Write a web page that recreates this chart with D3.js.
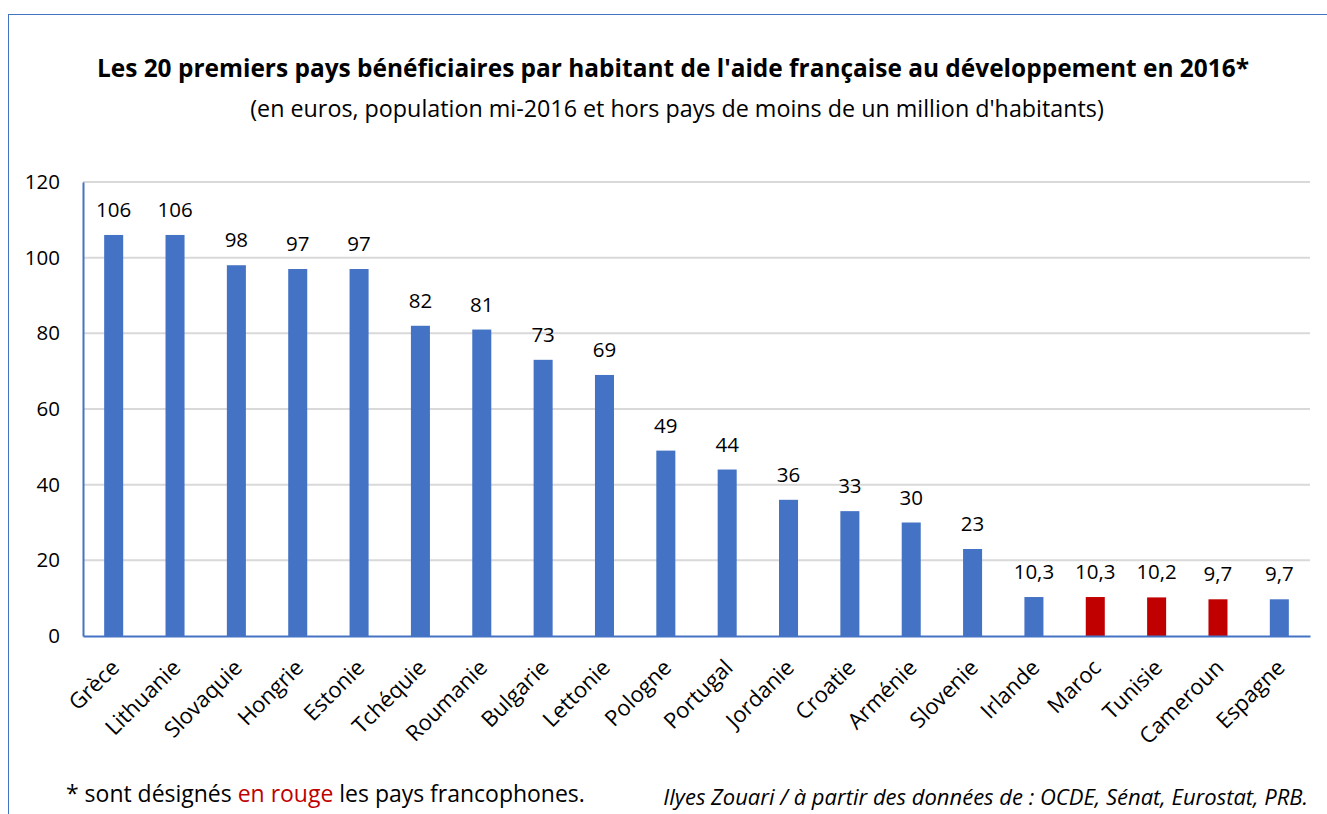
<!DOCTYPE html>
<html>
<head>
<meta charset="utf-8">
<script src="https://cdn.jsdelivr.net/npm/d3@7"></script>
<style>
  body { margin: 0; background: #fff; }
  svg, svg text { font-family: "Open Sans", Lato, sans-serif; }
</style>
</head>
<body>
<svg width="1327" height="814"></svg>
<script>
var countries = ["Grèce", "Lithuanie", "Slovaquie", "Hongrie", "Estonie", "Tchéquie", "Roumanie",
    "Bulgarie", "Lettonie", "Pologne", "Portugal", "Jordanie", "Croatie", "Arménie", "Slovenie",
    "Irlande", "Maroc", "Tunisie", "Cameroun", "Espagne"];
var values = [106, 106, 98, 97, 97, 82, 81, 73, 69, 49, 44, 36, 33, 30, 23, 10.3, 10.3, 10.2, 9.7, 9.7];
var francophone = ["Maroc", "Tunisie", "Cameroun"];
var yTicks = [0, 20, 40, 60, 80, 100, 120];

var svg = d3.select("svg"),
    width = +svg.attr("width"),
    height = +svg.attr("height");

var blue = "#4472C4", red = "#C00000";
var fmt = function (v) { return String(v).replace(".", ","); };

// shrink/grow a text so it takes the given width
function fit(sel, target) {
    var size = parseFloat(sel.attr("font-size"));
    var len = sel.node().getComputedTextLength();
    sel.attr("font-size", (size * target / len).toFixed(2));
}

// chart border
svg.append("rect")
    .attr("x", 8.5).attr("y", 14.5)
    .attr("width", width + 20).attr("height", height + 20)
    .attr("fill", "none").attr("stroke", blue).attr("stroke-width", 1);

var margin = { left: 83, right: 17, top: 182, bottom: 178 };

var x = d3.scaleBand()
    .domain(countries)
    .range([margin.left, width - margin.right])
    .paddingInner(0.69).paddingOuter(0.345);

var y = d3.scaleLinear()
    .domain([0, 120])
    .range([height - margin.bottom, margin.top]);

// gridlines
svg.append("g")
    .selectAll("line")
    .data(yTicks.filter(function (d) { return d > 0; }))
    .enter().append("line")
    .attr("x1", margin.left).attr("x2", width - margin.right)
    .attr("y1", function (d) { return y(d); })
    .attr("y2", function (d) { return y(d); })
    .attr("stroke", "#d9d9d9").attr("stroke-width", 2);

// y axis
var yAxis = svg.append("g")
    .attr("transform", "translate(" + margin.left + ",0)")
    .call(d3.axisLeft(y).tickValues(yTicks).tickSize(0).tickPadding(23));
yAxis.attr("font-family", null);
yAxis.select(".domain").attr("stroke", blue).attr("stroke-width", 2);
yAxis.selectAll("text").attr("font-size", 20.5).attr("fill", "#000");

// bars
svg.append("g")
    .selectAll("rect")
    .data(countries)
    .enter().append("rect")
    .attr("x", function (d) { return x(d); })
    .attr("width", x.bandwidth())
    .attr("y", function (d, i) { return y(values[i]); })
    .attr("height", function (d, i) { return y(0) - y(values[i]); })
    .attr("fill", function (d) { return francophone.indexOf(d) >= 0 ? red : blue; });

// value labels
svg.append("g")
    .selectAll("text")
    .data(countries)
    .enter().append("text")
    .attr("x", function (d) { return x(d) + x.bandwidth() / 2; })
    .attr("y", function (d, i) { return y(values[i]) - 18; })
    .attr("text-anchor", "middle")
    .attr("font-size", 20.5)
    .text(function (d, i) { return fmt(values[i]); });

// x axis
var xAxis = svg.append("g")
    .attr("transform", "translate(0," + y(0) + ")")
    .call(d3.axisBottom(x).tickSize(0).tickPadding(0));
xAxis.attr("font-family", null);
xAxis.select(".domain").attr("stroke", blue).attr("stroke-width", 2);
xAxis.selectAll("text")
    .attr("font-size", 22).attr("fill", "#000")
    .attr("text-anchor", "end")
    .attr("dy", 0)
    .attr("transform", "translate(7,33) rotate(-45)");

// titles
fit(svg.append("text")
    .attr("x", 673).attr("y", 77)
    .attr("text-anchor", "middle")
    .attr("font-size", 21).attr("font-weight", "bold")
    .text("Les 20 premiers pays bénéficiaires par habitant de l'aide française au développement en 2016*"), 1153);

fit(svg.append("text")
    .attr("x", 677).attr("y", 117)
    .attr("text-anchor", "middle")
    .attr("font-size", 20)
    .text("(en euros, population mi-2016 et hors pays de moins de un million d'habitants)"), 854);

// notes
var note = svg.append("text")
    .attr("x", 66).attr("y", 802)
    .attr("font-size", 20);
note.append("tspan").text("* sont désignés ");
note.append("tspan").attr("fill", red).text("en rouge");
note.append("tspan").text(" les pays francophones.");
fit(note, 519);

fit(svg.append("text")
    .attr("x", 1308).attr("y", 805)
    .attr("text-anchor", "end")
    .attr("font-size", 18).attr("font-style", "italic")
    .text("Ilyes Zouari / à partir des données de : OCDE, Sénat, Eurostat, PRB."), 645);
</script>
</body>
</html>
